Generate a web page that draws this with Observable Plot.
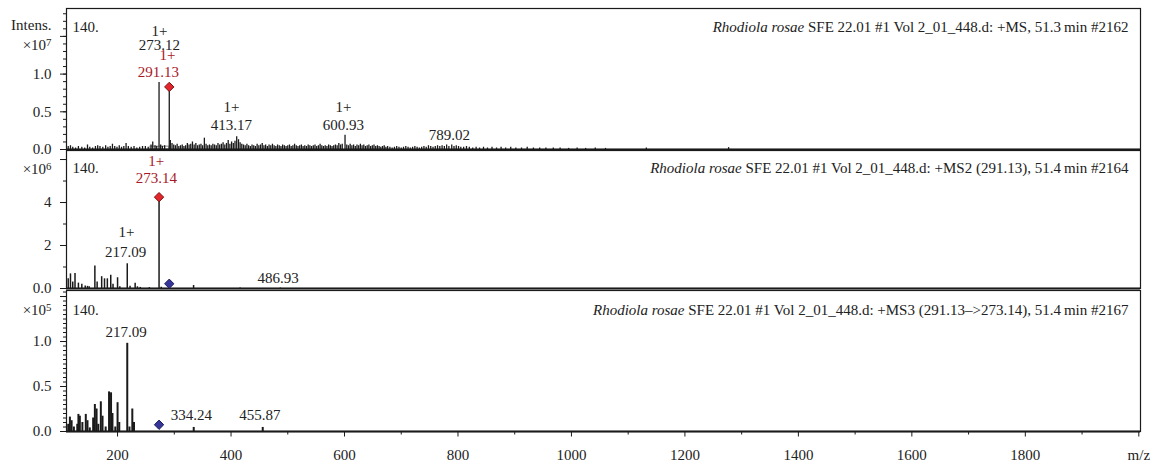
<!DOCTYPE html>
<html><head><meta charset="utf-8">
<script src="https://cdn.jsdelivr.net/npm/d3@7"></script>
<script src="https://cdn.jsdelivr.net/npm/@observablehq/plot@0.6"></script>
<style>
body{margin:0;background:#fff;}
#chart svg{display:block;overflow:visible;}
</style></head><body><div id="chart"></div>
<script>
// ---------- DATA ----------
// MS1 spectrum: [m/z, intensity ×10^7]
const ms1Peaks = [
[113,0.04],[117,0.05],[121,0.03],[126,0.02],[131,0.04],[137,0.03],[142,0.02],[147,0.06],[151,0.03],[156,0.02],[161,0.04],[165,0.05],[169,0.04],[174,0.03],[179,0.05],[183,0.03],[187,0.04],[191,0.07],[195,0.04],[199,0.03],[203,0.05],[207,0.03],[211,0.04],[215,0.08],[219,0.04],[224,0.03],[229,0.04],[234,0.02],[239,0.03],[244,0.04],[249,0.04],[254,0.03],[259,0.06],[262,0.10],[266,0.05],[269,0.04],
[273.12,0.89],[276,0.06],[279,0.04],[283,0.05],
[291.13,0.80],[293,0.12],[296,0.08],[299,0.06],[302,0.05],[305,0.07],[308,0.04],[311,0.05],[314,0.06],[317,0.04],[320,0.05],[323,0.08],[326,0.06],[329,0.07],[332,0.10],[335,0.06],[338,0.08],[341,0.05],[344,0.06],[347,0.07],[350,0.05],[353,0.15],[356,0.07],[359,0.05],[362,0.06],[365,0.05],[368,0.07],[371,0.06],[374,0.05],[377,0.08],[380,0.06],[383,0.07],[386,0.09],[389,0.06],[392,0.08],[395,0.12],[398,0.07],[401,0.10],[404,0.08],[407,0.11],[410,0.17],[413.17,0.13],[416,0.09],[419,0.07],[422,0.06],[425,0.05],[428,0.07],[431,0.05],[434,0.04],[437,0.06],[440,0.05],[443,0.04],[446,0.07],[449,0.05],[452,0.06],[455,0.08],[458,0.05],[461,0.06],[464,0.04],[467,0.06],[470,0.05],[473,0.07],[476,0.05],[479,0.04],[482,0.06],[485,0.05],[488,0.04],[491,0.06],[494,0.05],[497,0.04],[500,0.05],[503,0.06],[506,0.04],[509,0.05],[512,0.07],[515,0.05],[518,0.04],[521,0.05],[524,0.06],[527,0.04],[530,0.05],[533,0.04],[536,0.06],[539,0.05],[542,0.04],[545,0.05],[548,0.06],[551,0.04],[554,0.05],[557,0.07],[560,0.05],[563,0.04],[566,0.05],[569,0.04],[572,0.06],[575,0.05],[578,0.04],[581,0.05],[584,0.06],[587,0.05],[590,0.08],[593,0.06],[596,0.07],
[600.93,0.19],[604,0.06],[607,0.05],[610,0.07],[613,0.05],[616,0.06],[619,0.04],[622,0.06],[625,0.05],[628,0.07],[631,0.05],[634,0.06],[637,0.04],[640,0.05],[643,0.06],[646,0.04],[649,0.05],[652,0.06],[655,0.04],[658,0.05],[661,0.04],[664,0.03],[667,0.04],[670,0.05],[673,0.03],[676,0.04],[680,0.03],[684,0.02],[688,0.03],[692,0.04],[696,0.03],[700,0.02],[704,0.03],[708,0.04],[712,0.03],[716,0.02],[720,0.03],[724,0.04],[728,0.03],[732,0.02],[736,0.03],[740,0.04],[744,0.03],[748,0.05],[752,0.04],[756,0.03],[760,0.04],[764,0.05],[768,0.04],[772,0.05],[776,0.04],[780,0.06],[784,0.04],[789.02,0.06],[793,0.04],[797,0.05],[801,0.04],[805,0.03],[810,0.03],[815,0.04],[820,0.03],[826,0.02],[832,0.03],[838,0.02],[845,0.03],[852,0.02],[860,0.03],[868,0.02],[876,0.03],[884,0.02],[893,0.03],[902,0.02],[912,0.02],[922,0.03],[933,0.02],[944,0.02],[955,0.02],[968,0.02],[980,0.02],[995,0.015],[1010,0.02],[1025,0.015],[1042,0.02],[1060,0.015],[1132,0.02],[1277,0.025]
];
// MS2 spectrum: [m/z, intensity ×10^6]
const ms2Peaks = [
[113,0.45],[117,0.68],[121,0.3],[125,0.7],[131,0.25],[137,0.2],[143,0.12],[147,0.1],[150,0.08],[160,1.05],[164,0.3],[172,0.55],[177,0.45],[182,0.45],[188,0.62],[192,0.2],[200,0.5],[204,0.08],[217.09,1.15],[222,0.1],[231,0.25],[235,0.08],[240,0.05],[256,0.04],[273.14,4.15],[277,0.06],[334,0.14],[416,0.02],[486.93,0.02]
];
// MS3 spectrum: [m/z, intensity ×10^5]
const ms3Peaks = [
[113,0.08],[116,0.16],[119,0.12],[123,0.05],[129,0.08],[131,0.19],[133.5,0.17],[138,0.1],[144,0.19],[147,0.12],[151,0.04],[157,0.15],[160,0.3],[163,0.25],[166,0.08],[170.5,0.33],[173.5,0.17],[179,0.05],[185,0.44],[188.5,0.43],[191,0.2],[196,0.05],[200,0.32],[203,0.1],[217.09,0.98],[221,0.05],[226,0.25],[229,0.1],[334.24,0.045],[455.87,0.045]
];
// annotations: [m/z, intensity, text, colour]
const ms1Labels = [[273.9,1.57,"1+","k"],[273.9,1.39,"273.12","k"],[288,1.25,"1+","r"],[272,1.03,"291.13","r"],[400.8,0.56,"1+","k"],[400.8,0.32,"413.17","k"],[598,0.56,"1+","k"],[598,0.32,"600.93","k"],[785,0.19,"789.02","k"]];
const ms2Labels = [[268,5.9,"1+","r"],[268.6,5.14,"273.14","r"],[215.7,2.6,"1+","k"],[214,1.7,"217.09","k"],[482.8,0.47,"486.93","k"]];
const ms3Labels = [[214.9,1.10,"217.09","k"],[330.3,0.18,"334.24","k"],[451,0.18,"455.87","k"]];
// precursor markers: [m/z, intensity, kind]
const ms1Markers = [[291.13,0.83,"r"]];
const ms2Markers = [[273.14,4.25,"r"],[291.13,0.22,"b"]];
const ms3Markers = [[273.14,0.075,"b"]];
const isolationWindow = [[258,291]];
const headers = [
 "Rhodiola rosae SFE 22.01 #1 Vol 2_01_448.d: +MS, 51.3\u2009min #2162",
 "Rhodiola rosae SFE 22.01 #1 Vol 2_01_448.d: +MS2 (291.13), 51.4\u2009min #2164",
 "Rhodiola rosae SFE 22.01 #1 Vol 2_01_448.d: +MS3 (291.13\u2013>273.14), 51.4\u2009min #2167"
];
const cornerLabel = "140.";
const yTitle = "Intens.";
const exponents = [7, 6, 5];
const xMajor = [200,400,600,800,1000,1200,1400,1600,1800,2000];
const xMinor = [300,500,700,900,1100,1300,1500,1700,1900];
const xUnit = "m/z";

// ---------- DRAWING ----------
const FONT = "'Liberation Serif', 'Times New Roman', serif";
const INK = "#1a1a1a", RED = "#a8182a";
const markFill = {r: "#e3262b", b: "#35359a"};
const markStroke = {r: "#7a1010", b: "#1c1c5c"};

function panel(o) {
  const marks = [];
  if (o.window) marks.push(Plot.rect(o.window, {x1: d => d[0], x2: d => d[1], y1: 0, y2: o.yMax * 0.02, stroke: "#999", strokeWidth: 1.2, fill: "white"}));
  marks.push(
    Plot.ruleX(o.peaks, {x: d => d[0], y1: 0, y2: d => d[1], stroke: INK, strokeWidth: o.peakWidth}),
    Plot.ruleY([0], {stroke: INK, strokeWidth: 2}),
    Plot.frame({stroke: INK, strokeWidth: 1.2}),
    Plot.axisY({ticks: o.minor, tickSize: 3, tickFormat: () => "", label: null, stroke: INK}),
    Plot.axisY({ticks: o.major, tickSize: 6, tickPadding: 9, tickFormat: o.fmt, label: null, stroke: INK, fill: "#222"}),
    Plot.text(o.labels, {x: d => d[0], y: d => d[1], text: d => d[2], fill: d => d[3] === "r" ? RED : "#222"}),
    Plot.dot(o.markers, {x: d => d[0], y: d => d[1], symbol: "diamond2", r: 4.2, fill: d => markFill[d[2]], stroke: d => markStroke[d[2]], strokeWidth: 1}),
    Plot.text([cornerLabel], {text: d => d, frameAnchor: "top-left", dx: 6, dy: o.hdy, textAnchor: "start", fill: "#222"}),
    Plot.text([o.header], {text: d => d, frameAnchor: "top-right", dx: -12, dy: o.hdy, textAnchor: "end", fill: "#222"}),
    Plot.text(["×10^" + o.exp], {text: d => d, frameAnchor: "top-left", dx: -15, dy: o.edy, textAnchor: "end", fill: "#222"})
  );
  if (o.title) marks.push(Plot.text([o.title], {text: d => d, frameAnchor: "top-left", dx: -15, dy: 11, textAnchor: "end", fill: "#222"}));
  if (o.xaxis) marks.push(
    Plot.axisX({ticks: xMinor, tickSize: 3.5, tickFormat: () => "", label: null, stroke: INK}),
    Plot.axisX({ticks: xMajor, tickSize: 5.5, tickPadding: 12, tickFormat: d => d === 2000 ? xUnit : String(d), label: null, stroke: INK, fill: "#222"})
  );
  const svg = Plot.plot({
    width: 1156, height: o.height,
    marginLeft: 66, marginRight: 16, marginTop: o.mt, marginBottom: o.mb,
    style: {fontFamily: FONT, fontSize: "15px", background: "none", color: "#222", overflow: "visible"},
    x: {domain: [110, 2003], axis: null},
    y: {domain: [0, o.yMax], axis: null},
    marks
  });
  d3.select(svg).selectAll("text").each(function() {
    const t = this.textContent;
    const m = t.match(/^×10\^(\d)$/);
    if (m) {
      this.textContent = "×10";
      d3.select(this).append("tspan").attr("dy", "-0.4em").attr("font-size", "0.72em").text(m[1]);
    } else if (t.startsWith("Rhodiola rosae")) {
      const rest = t.slice("Rhodiola rosae".length);
      this.textContent = "";
      d3.select(this).append("tspan").attr("font-style", "italic").text("Rhodiola rosae");
      d3.select(this).append("tspan").text(rest);
    }
  });
  return svg;
}
const fmtDec = d => d === 1.5 ? "" : d.toFixed(1);
const chart = document.getElementById("chart");
chart.append(panel({
  peaks: ms1Peaks, labels: ms1Labels, markers: ms1Markers, window: isolationWindow,
  header: headers[0], title: yTitle, hdy: 13, exp: exponents[0], edy: 31,
  height: 150, mt: 8, mb: 1, yMax: 1.87, peakWidth: 1.3,
  major: [0, 0.5, 1, 1.5], minor: d3.range(0, 19).map(i => i / 10), fmt: fmtDec
}));
chart.append(panel({
  peaks: ms2Peaks, labels: ms2Labels, markers: ms2Markers,
  header: headers[1], hdy: 12, exp: exponents[1], edy: 13,
  height: 139, mt: 0, mb: 1, yMax: 6.42, peakWidth: 1.5,
  major: [0, 2, 4, 6], minor: d3.range(0, 7), fmt: d => d === 6 ? "" : d === 0 ? "0.0" : String(d)
}));
chart.append(panel({
  peaks: ms3Peaks, labels: ms3Labels, markers: ms3Markers,
  header: headers[2], hdy: 14, exp: exponents[2], edy: 14, xaxis: true,
  height: 178, mt: 1, mb: 36, yMax: 1.567, peakWidth: 2,
  major: [0, 0.5, 1, 1.5], minor: d3.range(0, 32).map(i => i * 0.05), fmt: fmtDec
}));
</script></body></html>
